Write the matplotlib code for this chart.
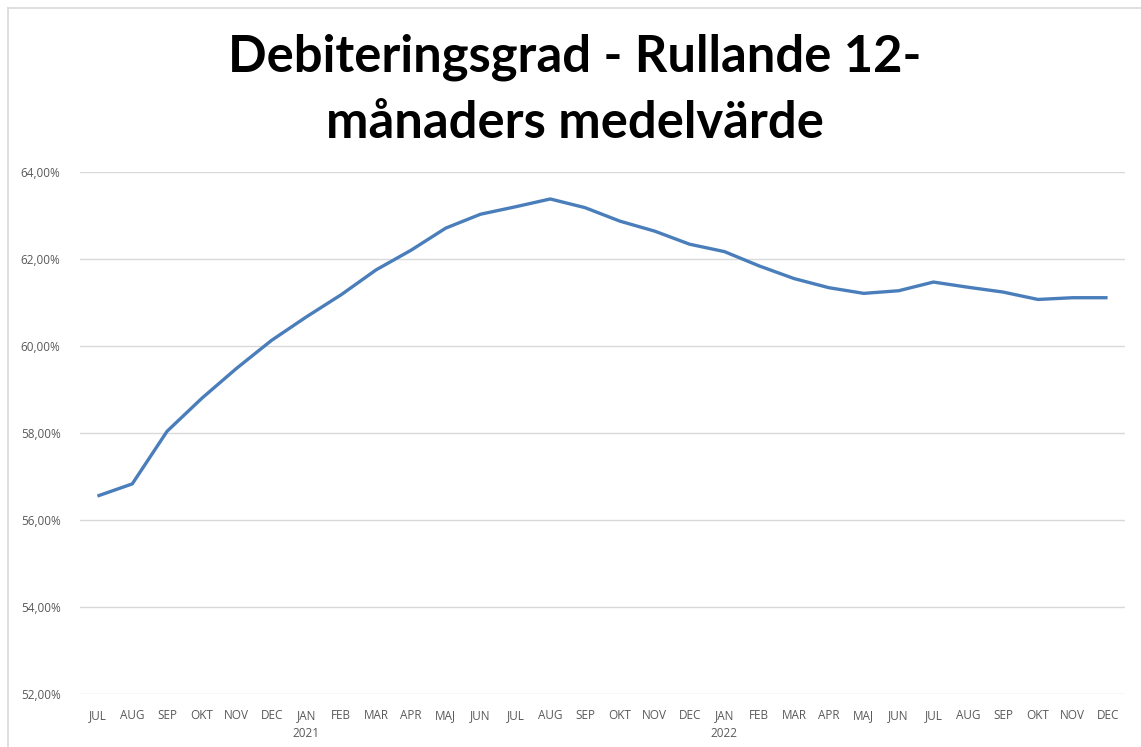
import matplotlib
matplotlib.use("Agg")
import matplotlib.pyplot as plt
from matplotlib.lines import Line2D

months = ["JUL", "AUG", "SEP", "OKT", "NOV", "DEC",
          "JAN", "FEB", "MAR", "APR", "MAJ", "JUN", "JUL", "AUG", "SEP", "OKT", "NOV", "DEC",
          "JAN", "FEB", "MAR", "APR", "MAJ", "JUN", "JUL", "AUG", "SEP", "OKT", "NOV", "DEC"]
years = {6: "2021", 18: "2022"}
values = [56.55, 56.83, 58.04, 58.80, 59.49, 60.13,
          60.67, 61.18, 61.75, 62.20, 62.71, 63.03, 63.20, 63.38, 63.18, 62.87, 62.64, 62.34,
          62.17, 61.84, 61.55, 61.34, 61.21, 61.27, 61.47, 61.35, 61.24, 61.07, 61.11, 61.11]
yticks = [52, 54, 56, 58, 60, 62, 64]
title = "Debiteringsgrad - Rullande 12-\nmånaders medelvärde"

W, H = 1141, 747
fig = plt.figure(figsize=(W / 100, H / 100), dpi=100)
fig.patch.set_facecolor("white")

left, right, top, bottom = 80, 1125, 172, 694
ax = fig.add_axes([left / W, 1 - bottom / H, (right - left) / W, (bottom - top) / H])

x = list(range(len(values)))
ax.plot(x, values, color="#4A7EBB", linewidth=2.4, solid_capstyle="butt", zorder=3)
ax.set_xlim(-0.5, len(values) - 0.5)
ax.set_ylim(52, 64)
ax.set_yticks(yticks)
ax.set_yticklabels([f"{v:.2f}%".replace(".", ",") for v in yticks])
ax.set_xticks(x)
labels = [m + ("\n" + years[i] if i in years else "") for i, m in enumerate(months)]
ax.set_xticklabels(labels, linespacing=1.45, va="top")
ax.grid(axis="y", color="#D9D9D9", linewidth=1)
ax.set_axisbelow(True)
for s in ax.spines.values():
    s.set_visible(False)
ax.tick_params(axis="both", length=0, colors="#595959", labelsize=8.5)
ax.tick_params(axis="x", pad=11)
ax.tick_params(axis="y", pad=14)
for lab in ax.get_xticklabels() + ax.get_yticklabels():
    lab.set_fontfamily("Open Sans")

fig.text(575 / W, 1 - 90 / H, title, ha="center", va="center", fontsize=36.5,
         fontweight="bold", fontfamily="Lato", linespacing=1.5, color="black")

fig.add_artist(Line2D([8 / W, 1], [1 - 8 / H, 1 - 8 / H], transform=fig.transFigure,
                      color="#D9D9D9", linewidth=1.2))
fig.add_artist(Line2D([8 / W, 8 / W], [0, 1 - 8 / H], transform=fig.transFigure,
                      color="#D9D9D9", linewidth=1.2))

fig.savefig("out.png", dpi=100, facecolor="white")
